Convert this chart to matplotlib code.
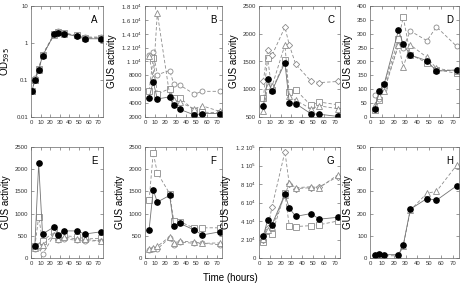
import numpy as np
import matplotlib
matplotlib.use('Agg')
import matplotlib.pyplot as plt
from matplotlib.ticker import FixedLocator

plt.rcParams['font.family'] = ['Liberation Sans', 'DejaVu Sans']

# Sampling times (hours)
hours = [4, 8, 12, 24, 28, 34, 48, 56, 73]
hours_a = [1, 4, 8, 12, 24, 28, 34, 48, 56, 73]

# Panel A: OD595 growth curves
a_filled = [0.05, 0.10, 0.19, 0.45, 1.7, 1.9, 1.8, 1.5, 1.3, 1.3]
a_square = [0.05, 0.10, 0.20, 0.48, 1.7, 2.0, 1.85, 1.6, 1.4, 1.4]
a_circle = [0.05, 0.11, 0.20, 0.47, 1.75, 2.05, 1.9, 1.55, 1.45, 1.45]
a_triangle = [0.05, 0.10, 0.19, 0.46, 1.65, 1.95, 1.8, 1.6, 1.35, 1.35]

# Panels B-H: GUS activity
b_filled = [4800, 7100, 4600, 4900, 3800, 3100, 2300, 2500, 2500]
b_square = [5800, 10500, 5300, 6100, 4700, 4800, 2900, 2700, 2600]
b_circle = [10900, 11400, 8100, 8700, 6800, 6600, 5300, 5700, 5700]
b_triangle = [10800, 7600, 17000, 5200, 4500, 4100, 3200, 3600, 2800]

c_filled = [700, 1180, 970, 1480, 760, 740, 560, 550, 510]
c_square = [840, 1560, 980, 1520, 950, 990, 710, 770, 720]
c_circle = [1150, 1700, 1610, 2120, 1800, 1450, 1150, 1120, 1140]
c_triangle = [600, 1050, 1050, 1800, 880, 800, 650, 700, 650]

d_filled = [30, 93, 120, 313, 263, 223, 203, 165, 170]
d_square = [25, 60, 115, 280, 360, 225, 195, 170, 158]
d_circle = [80, 65, 100, 260, 250, 310, 275, 325, 255]
d_triangle = [45, 75, 95, 260, 180, 260, 215, 175, 165]

e_filled = [270, 2130, 540, 700, 510, 610, 610, 540, 590]
e_square = [260, 930, 380, 590, 470, 500, 480, 430, 440]
e_circle = [200, 240, 80, 520, 400, 430, 400, 380, 390]
e_triangle = [230, 300, 300, 520, 430, 470, 430, 420, 380]

f_filled = [640, 1530, 1260, 1410, 730, 780, 630, 520, 590]
f_square = [1300, 2370, 1920, 1450, 840, 820, 670, 680, 680]
f_circle = [180, 200, 200, 460, 290, 360, 330, 330, 300]
f_triangle = [200, 220, 260, 480, 340, 380, 360, 330, 340]

g_filled = [24000, 41000, 36000, 69000, 54000, 45000, 48000, 42000, 44000]
g_square = [17000, 29000, 26000, 70000, 35000, 34000, 35000, 36000, 40000]
g_circle = [20000, 32000, 55000, 115000, 80000, 75000, 76000, 77000, 88000]
g_triangle = [21000, 30000, 33000, 68000, 81000, 76000, 77000, 76000, 90000]

h_filled = [12, 18, 15, 15, 57, 220, 268, 260, 325]
h_triangle = [10, 12, 10, 10, 55, 215, 292, 300, 418]

x_ticks = [0, 10, 20, 30, 40, 50, 60, 70]

b_ticks = [2000, 4000, 6000, 8000, 10000, 12000, 14000, 16000, 18000]
b_labels = ['2000', '4000', '6000', '8000', r'1 10$^4$', r'1.2 10$^4$',
            r'1.4 10$^4$', r'1.6 10$^4$', r'1.8 10$^4$']
g_ticks = [0, 20000, 40000, 60000, 80000, 100000, 120000]
g_labels = ['0', r'2 10$^4$', r'4 10$^4$', r'6 10$^4$', r'8 10$^4$',
            r'1 10$^5$', r'1.2 10$^5$']

W, H = 461, 285
fig = plt.figure(figsize=(W / 100, H / 100), dpi=100)


def px_axes(l, r, t, b):
    return fig.add_axes([l / W, 1 - b / H, (r - l) / W, (b - t) / H])


col_lefts = [31, 145, 259, 370]
col_rights = [103, 222, 340, 459]
rows = [(6, 117), (147, 258)]

grey = '0.55'
line_grey = '0.45'


def draw(ax, x, filled, opens, letter):
    styles = {'s': dict(marker='s', ms=4.2),
              'o': dict(marker='o', ms=3.6),
              '^': dict(marker='^', ms=4.0),
              'D': dict(marker='D', ms=3.2)}
    for y, m in opens:
        ax.plot(x, y, ls=(0, (4, 2.5)), lw=0.6, color=grey,
                mfc='white', mec=grey, mew=0.6, **styles[m])
    ax.plot(x, filled, ls='-', lw=0.6, color=line_grey,
            marker='o', ms=3.8, mfc='black', mec='black')
    ax.text(0.93, 0.92, letter, transform=ax.transAxes, ha='right', va='top',
            fontsize=7)
    ax.set_xlim(0, 75)
    ax.xaxis.set_major_locator(FixedLocator(x_ticks))
    ax.tick_params(direction='in', top=True, right=True, length=2.5,
                   width=0.4, labelsize=4.3, pad=2, color='0.3',
                   labelcolor='0.2')
    for s in ax.spines.values():
        s.set_linewidth(0.5)
        s.set_color('0.4')


# A
ax = px_axes(col_lefts[0], col_rights[0], *rows[0])
ax.set_yscale('log')
draw(ax, hours_a, a_filled, [(a_square, 's'), (a_circle, 'o'), (a_triangle, '^')], 'A')
ax.set_ylim(0.01, 10)
ax.yaxis.set_major_locator(FixedLocator([0.01, 0.1, 1, 10]))
ax.yaxis.set_minor_locator(FixedLocator([]))
ax.set_yticklabels(['0.01', '0.1', '1', '10'])
ax.set_ylabel(r'OD$_{595}$', fontsize=7, labelpad=3)

panels = [
    (0, 1, b_filled, [(b_square, 's'), (b_circle, 'o'), (b_triangle, '^')], 'B', (2000, 18000), b_ticks, b_labels),
    (0, 2, c_filled, [(c_square, 's'), (c_circle, 'D'), (c_triangle, '^')], 'C', (500, 2500), [500, 1000, 1500, 2000, 2500], None),
    (0, 3, d_filled, [(d_square, 's'), (d_circle, 'o'), (d_triangle, '^')], 'D', (0, 400), list(range(0, 401, 50)), None),
    (1, 0, e_filled, [(e_square, 's'), (e_circle, 'o'), (e_triangle, '^')], 'E', (0, 2500), list(range(0, 2501, 500)), None),
    (1, 1, f_filled, [(f_square, 's'), (f_circle, 'o'), (f_triangle, '^')], 'F', (0, 2500), list(range(0, 2501, 500)), None),
    (1, 2, g_filled, [(g_square, 's'), (g_circle, 'D'), (g_triangle, '^')], 'G', (0, 120000), g_ticks, g_labels),
    (1, 3, h_filled, [(h_triangle, '^')], 'H', (0, 500), list(range(0, 501, 100)), None),
]

for r, c, filled, opens, letter, ylim, yt, ylab in panels:
    ax = px_axes(col_lefts[c], col_rights[c], *rows[r])
    draw(ax, hours, filled, opens, letter)
    ax.set_ylim(*ylim)
    ax.yaxis.set_major_locator(FixedLocator(yt))
    if ylab is not None:
        ax.set_yticklabels(ylab)
    ax.set_ylabel('GUS activity', fontsize=7, labelpad=3)

fig.text(0.5, 1 - 278 / H, 'Time (hours)', ha='center', va='center', fontsize=7)

fig.savefig('out.png', dpi=100)
